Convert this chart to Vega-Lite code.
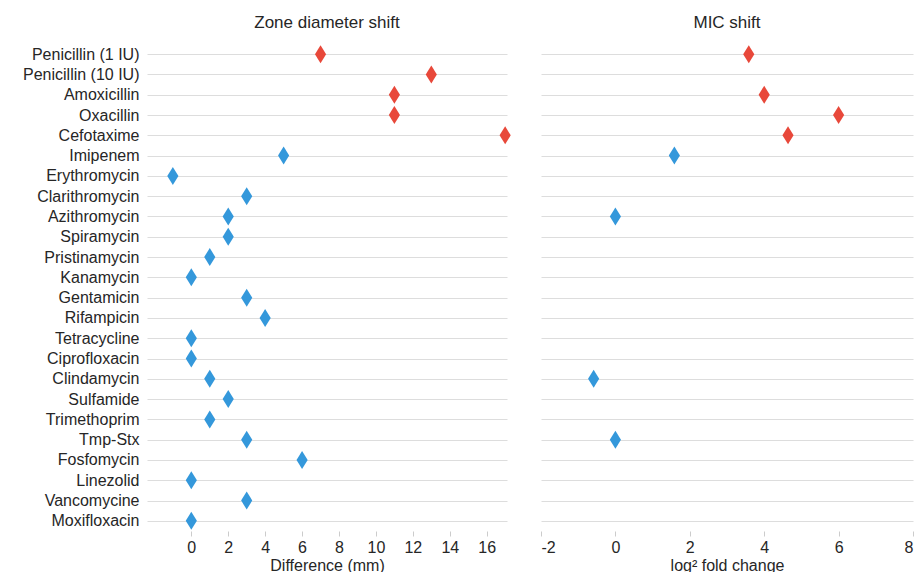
{
  "$schema": "https://vega.github.io/schema/vega-lite/v6.json",
  "background": "white",
  "padding": {"left": 22, "top": 14, "right": 0, "bottom": 0},
  "config": {
    "view": {"stroke": null},
    "font": "Liberation Sans",
    "axis": {
      "labelFont": "Liberation Sans",
      "titleFont": "Liberation Sans",
      "labelFontSize": 16,
      "titleFontSize": 16,
      "labelColor": "#262626",
      "titleColor": "#262626",
      "titleFontWeight": "normal",
      "domain": false,
      "tickColor": "#cccccc",
      "gridColor": "#dddddd"
    },
    "title": {"font": "Liberation Sans", "fontSize": 17, "fontWeight": "normal", "color": "#262626"}
  },
  "data": {
    "values": [
      {"drug": "Penicillin (1 IU)", "zone": 7, "mic": 3.585, "group": "beta"},
      {"drug": "Penicillin (10 IU)", "zone": 13, "mic": null, "group": "beta"},
      {"drug": "Amoxicillin", "zone": 11, "mic": 4, "group": "beta"},
      {"drug": "Oxacillin", "zone": 11, "mic": 6, "group": "beta"},
      {"drug": "Cefotaxime", "zone": 17, "mic": 4.64, "group": "beta"},
      {"drug": "Imipenem", "zone": 5, "mic": 1.585, "group": "other"},
      {"drug": "Erythromycin", "zone": -1, "mic": null, "group": "other"},
      {"drug": "Clarithromycin", "zone": 3, "mic": null, "group": "other"},
      {"drug": "Azithromycin", "zone": 2, "mic": 0, "group": "other"},
      {"drug": "Spiramycin", "zone": 2, "mic": null, "group": "other"},
      {"drug": "Pristinamycin", "zone": 1, "mic": null, "group": "other"},
      {"drug": "Kanamycin", "zone": 0, "mic": null, "group": "other"},
      {"drug": "Gentamicin", "zone": 3, "mic": null, "group": "other"},
      {"drug": "Rifampicin", "zone": 4, "mic": null, "group": "other"},
      {"drug": "Tetracycline", "zone": 0, "mic": null, "group": "other"},
      {"drug": "Ciprofloxacin", "zone": 0, "mic": null, "group": "other"},
      {"drug": "Clindamycin", "zone": 1, "mic": -0.585, "group": "other"},
      {"drug": "Sulfamide", "zone": 2, "mic": null, "group": "other"},
      {"drug": "Trimethoprim", "zone": 1, "mic": null, "group": "other"},
      {"drug": "Tmp-Stx", "zone": 3, "mic": 0, "group": "other"},
      {"drug": "Fosfomycin", "zone": 6, "mic": null, "group": "other"},
      {"drug": "Linezolid", "zone": 0, "mic": null, "group": "other"},
      {"drug": "Vancomycine", "zone": 3, "mic": null, "group": "other"},
      {"drug": "Moxifloxacin", "zone": 0, "mic": null, "group": "other"}
    ]
  },
  "spacing": 29,
  "hconcat": [
    {
      "width": 360,
      "height": 487,
      "title": {"text": "Zone diameter shift", "offset": 12},
      "mark": {"type": "point", "shape": "M0,-1L0.62,0L0,1L-0.62,0Z", "filled": true, "opacity": 1, "size": 324},
      "encoding": {
        "y": {
          "field": "drug", "type": "nominal", "sort": null,
          "scale": {"type": "point", "padding": 0.5},
          "axis": {"title": null, "ticks": false, "labelPadding": 8, "grid": true}
        },
        "x": {
          "field": "zone", "type": "quantitative",
          "scale": {"domain": [-2.4, 17.1], "nice": false, "zero": false},
          "axis": {"title": "Difference (mm)", "values": [0, 2, 4, 6, 8, 10, 12, 14, 16], "grid": false, "tickSize": 5, "labelPadding": 3, "titlePadding": 2}
        },
        "color": {
          "field": "group", "type": "nominal",
          "scale": {"domain": ["beta", "other"], "range": ["#e8483a", "#3498db"]},
          "legend": null
        }
      }
    },
    {
      "width": 372,
      "height": 487,
      "title": {"text": "MIC shift", "offset": 12},
      "mark": {"type": "point", "shape": "M0,-1L0.62,0L0,1L-0.62,0Z", "filled": true, "opacity": 1, "size": 324},
      "encoding": {
        "y": {
          "field": "drug", "type": "nominal", "sort": null,
          "scale": {"type": "point", "padding": 0.5, "domain": ["Penicillin (1 IU)", "Penicillin (10 IU)", "Amoxicillin", "Oxacillin", "Cefotaxime", "Imipenem", "Erythromycin", "Clarithromycin", "Azithromycin", "Spiramycin", "Pristinamycin", "Kanamycin", "Gentamicin", "Rifampicin", "Tetracycline", "Ciprofloxacin", "Clindamycin", "Sulfamide", "Trimethoprim", "Tmp-Stx", "Fosfomycin", "Linezolid", "Vancomycine", "Moxifloxacin"]},
          "axis": {"title": null, "ticks": false, "labels": false, "grid": true}
        },
        "x": {
          "field": "mic", "type": "quantitative",
          "scale": {"domain": [-2, 8], "nice": false, "zero": false},
          "axis": {"title": "log² fold change", "values": [-2, 0, 2, 4, 6, 8], "grid": false, "tickSize": 5, "labelPadding": 3, "titlePadding": 2, "labelExpr": "replace(datum.label, '−', '-')"}
        },
        "color": {
          "field": "group", "type": "nominal",
          "scale": {"domain": ["beta", "other"], "range": ["#e8483a", "#3498db"]},
          "legend": null
        }
      }
    }
  ],
  "resolve": {"scale": {"y": "independent", "x": "independent"}}
}
